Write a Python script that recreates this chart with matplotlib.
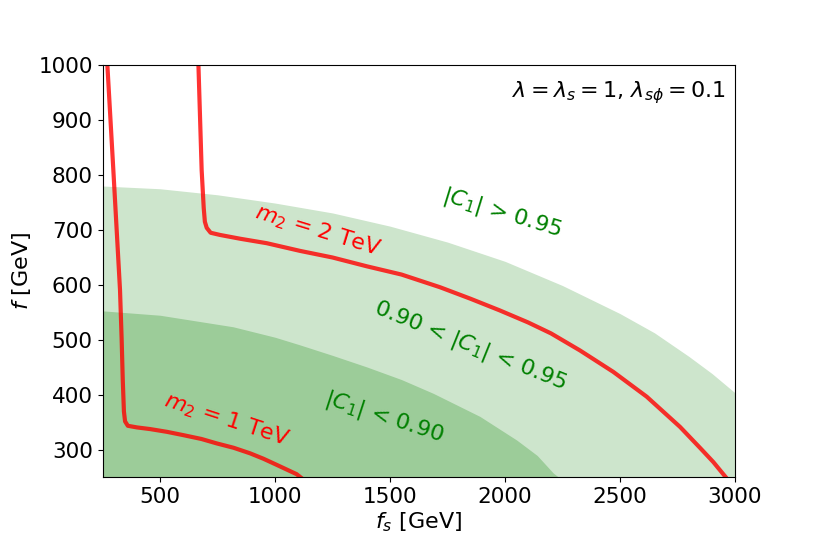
import numpy as np
import matplotlib
matplotlib.use("Agg")
import matplotlib.pyplot as plt

# boundaries of |C1| regions
outer_fs = [250, 500, 750, 1000, 1250, 1500, 1750, 2000, 2250, 2500, 2650, 2800, 2900, 3000]
outer_f = [780, 775, 764, 749, 731, 707, 678, 643, 599, 548, 513, 470, 439, 404]

inner_fs = [250, 500, 818, 1000, 1109, 1250, 1399, 1550, 1688, 1891, 2051, 2140, 2210, 2235]
inner_f = [553, 545, 524, 505, 491, 472, 451, 428, 403, 361, 318, 290, 258, 250]

# m2 contours
m1_fs = [271, 297, 326, 333, 338, 343, 348, 360, 400, 457, 530, 601, 680, 746, 820,
         891, 950, 1007, 1094, 1112]
m1_f = [1000, 809, 591, 503, 427, 370, 352, 344, 341, 338, 333, 327, 320, 312, 304,
        294, 284, 273, 256, 250]

m2_fs = [667, 681, 690, 695, 703, 720, 761, 850, 964, 1109, 1250, 1399, 1550, 1717,
         1850, 1976, 2100, 2200, 2326, 2471, 2616, 2761, 2850, 2906, 2961]
m2_f = [1000, 809, 740, 715, 704, 695, 691, 684, 676, 662, 650, 634, 619, 596,
        575, 554, 532, 512, 481, 442, 397, 342, 303, 278, 250]

fig, ax = plt.subplots(figsize=(8.17, 5.45), dpi=100)
fig.subplots_adjust(left=0.1255, right=0.8996, top=0.8807, bottom=0.1239)

ax.fill_between(outer_fs, outer_f, 250, color="#cde5cc", lw=0)
ax.fill_between(inner_fs, inner_f, 250, color="#9ccc99", lw=0)

ax.plot(m1_fs, m1_f, color="red", alpha=0.8, lw=3, solid_joinstyle="round")
ax.plot(m2_fs, m2_f, color="red", alpha=0.8, lw=3, solid_joinstyle="round")

fs = 16
ax.text(0.985, 0.965, r"$\lambda = \lambda_s = 1$, $\lambda_{s\phi} = 0.1$",
        transform=ax.transAxes, ha="right", va="top", fontsize=fs)
ax.text(1985, 731, r"$|C_1|$ > 0.95", color="green", fontsize=fs,
        rotation=-17, ha="center", va="center")
ax.text(1187, 699, r"$m_2$ = 2 TeV", color="red", fontsize=fs,
        rotation=-17, ha="center", va="center")
ax.text(1848, 489, r"0.90 < $|C_1|$ < 0.95", color="green", fontsize=fs,
        rotation=-22, ha="center", va="center")
ax.text(1474, 360, r"$|C_1|$ < 0.90", color="green", fontsize=fs,
        rotation=-18, ha="center", va="center")
ax.text(791, 355, r"$m_2$ = 1 TeV", color="red", fontsize=fs,
        rotation=-18, ha="center", va="center")

ax.set_xlim(250, 3000)
ax.set_ylim(250, 1000)
ax.set_xticks([500, 1000, 1500, 2000, 2500, 3000])
ax.set_yticks([300, 400, 500, 600, 700, 800, 900, 1000])
ax.tick_params(labelsize=15.5)
ax.set_xlabel(r"$f_s$ [GeV]", fontsize=16, labelpad=2)
ax.set_ylabel(r"$f$ [GeV]", fontsize=16, labelpad=4)

fig.savefig("out.png", dpi=100)
